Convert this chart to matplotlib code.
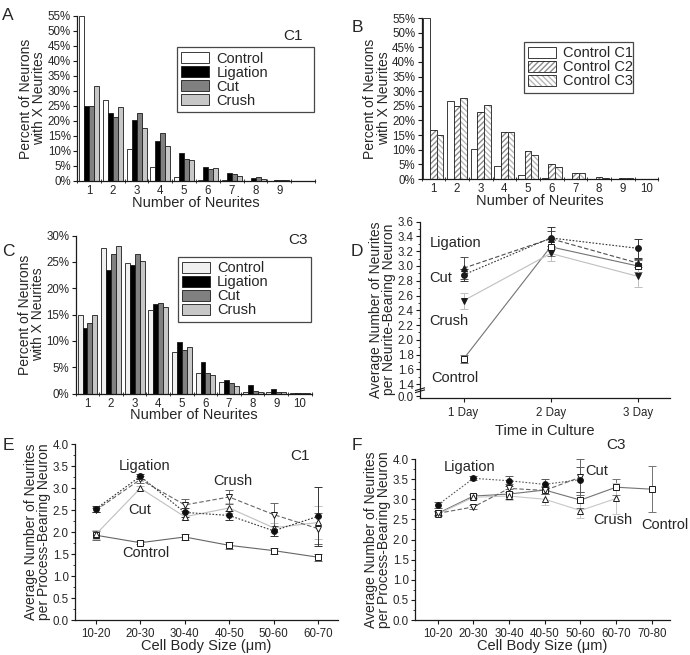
import numpy as np
import matplotlib.pyplot as plt
from matplotlib.patches import Patch
from matplotlib.legend_handler import HandlerTuple
import matplotlib.transforms as mtransforms

plt.rcParams['font.family'] = ['Liberation Sans', 'DejaVu Sans']
plt.rcParams['mathtext.default'] = 'regular'

# ---------------------------------------------------------------------------
# Data
# ---------------------------------------------------------------------------
# A: C1 distribution, neurites 1..9 (percent)
a_control = [55, 27, 10.5, 4.8, 1.4, 0.4, 0.2, 0.1, 0.0]
a_ligation = [25, 22.7, 20.2, 13.2, 9.3, 4.7, 2.6, 1.1, 0.4]
a_cut = [25, 21.4, 22.7, 15.9, 7.3, 3.9, 2.2, 1.4, 0.4]
a_crush = [31.8, 24.7, 17.5, 11.5, 7.0, 4.2, 1.5, 0.5, 0.3]

# B: control distributions, neurites 1..10
b_c1 = [55, 26.8, 10.4, 4.6, 1.5, 0.3, 0.1, 0.05, 0.0, 0.0]
b_c2 = [16.9, 24.8, 23.0, 16.1, 9.7, 5.2, 2.2, 0.6, 0.3, 0.0]
b_c3 = [15.1, 27.8, 25.4, 16.0, 8.1, 4.0, 2.2, 0.3, 0.3, 0.0]

# C: C3 distribution, neurites 1..10
c_control = [14.9, 27.6, 24.9, 15.9, 7.9, 3.9, 2.2, 0.3, 0.4, 0.1]
c_ligation = [12.5, 23.4, 24.4, 17.1, 9.9, 6.1, 2.5, 1.7, 0.8, 0.1]
c_cut = [13.5, 26.5, 26.5, 17.3, 8.3, 4.0, 2.0, 0.5, 0.25, 0.1]
c_crush = [14.9, 28.0, 25.1, 16.4, 8.9, 3.5, 1.5, 0.3, 0.25, 0.05]

# D: average neurites vs time in culture
days = ['1 Day', '2 Day', '3 Day']
d_lig = [2.88, 3.38, 3.24]
d_lig_err = [0.08, 0.15, 0.13]
d_cut = [2.97, 3.37, 3.04]
d_cut_err = [0.15, 0.10, 0.06]
d_crush = [2.53, 3.17, 2.86]
d_crush_err = [0.11, 0.10, 0.15]
d_control = [1.74, 3.26, 3.00]
d_control_err = [0.05, 0.12, 0.08]

# E: C1 vs cell body size
e_sizes = ['10-20', '20-30', '30-40', '40-50', '50-60', '60-70']
e_control = [1.93, 1.76, 1.89, 1.70, 1.58, 1.43]
e_control_err = [0.10, 0.04, 0.06, 0.08, 0.07, 0.08]
e_lig = [2.53, 3.27, 2.45, 2.38, 2.03, 2.36]
e_lig_err = [0.06, 0.05, 0.10, 0.10, 0.12, 0.67]
e_cut = [1.95, 3.00, 2.35, 2.55, 2.10, 2.22]
e_cut_err = [0.10, 0.05, 0.08, 0.12, 0.10, 0.38]
e_crush = [2.50, 3.20, 2.62, 2.80, 2.40, 2.08]
e_crush_err = [0.05, 0.08, 0.14, 0.17, 0.26, 0.35]

# F: C3 vs cell body size
f_sizes = ['10-20', '20-30', '30-40', '40-50', '50-60', '60-70', '70-80']
f_control = [2.65, 3.08, 3.13, 3.23, 2.98, 3.30, 3.25]
f_control_err = [0.06, 0.05, 0.12, 0.10, 0.20, 0.20, 0.57]
f_lig = [2.86, 3.52, 3.46, 3.37, 3.49]
f_lig_err = [0.07, 0.05, 0.12, 0.13, 0.30]
f_cut = [2.65, 2.81, 3.27, 3.22, 3.55]
f_cut_err = [0.05, 0.05, 0.10, 0.08, 0.44]
f_crush = [2.63, 3.05, 3.08, 3.00, 2.72, 3.02]
f_crush_err = [0.05, 0.05, 0.10, 0.14, 0.18, 0.38]

TXT = '0.15'
TICK_FS = 8.3
LABEL_FS = 10


# ---------------------------------------------------------------------------
# Helpers
# ---------------------------------------------------------------------------
def style_axes(ax):
    for s in ('top', 'right'):
        ax.spines[s].set_visible(False)
    for s in ('left', 'bottom'):
        ax.spines[s].set_linewidth(0.9)
        ax.spines[s].set_color('0.1')
    ax.tick_params(which='major', length=3, width=0.8, labelsize=TICK_FS,
                   labelcolor=TXT, pad=1.5, colors='0.1')
    ax.tick_params(which='minor', length=1.8, width=0.6, colors='0.1')


def hist_axes(ax, ymax, ystep, nlabels):
    style_axes(ax)
    ax.set_xlim(0.58, 10.2)
    ax.set_ylim(0, ymax)
    ax.set_yticks(np.arange(0, ymax + 0.1, ystep))
    ax.set_yticklabels([f'{int(v)}%' for v in np.arange(0, ymax + 0.1, ystep)])
    ax.set_xticks(np.arange(1, nlabels + 1))
    ax.set_xticks(np.arange(0.5, 10.6, 1.0), minor=True)
    ax.tick_params(axis='x', which='major', length=0, pad=3)
    ax.tick_params(axis='x', which='minor', length=3, direction='inout')
    ax.set_xlabel('Number of Neurites', fontsize=LABEL_FS + 0.5, color=TXT,
                  labelpad=-1)
    ax.set_ylabel('Percent of Neurons\nwith X Neurites', fontsize=LABEL_FS,
                  color=TXT, labelpad=1, linespacing=0.95)


def grouped_bars(ax, series, colors, width):
    n = len(series)
    offs = (np.arange(n) - (n - 1) / 2) * width
    handles = []
    for vals, col, off in zip(series, colors, offs):
        x = np.arange(1, len(vals) + 1) + off
        h = ax.bar(x, vals, width=width, color=col, edgecolor='0.1', linewidth=0.6)
        handles.append(h)
    return handles


def bar_legend(ax, handles, labels, bbox):
    leg = ax.legend(handles, labels, loc='upper left', bbox_to_anchor=bbox,
                    mode='expand', frameon=True, fancybox=False, fontsize=10.5,
                    handlelength=1.9, handleheight=0.75, handletextpad=0.5,
                    labelspacing=0.0, borderpad=0.3, borderaxespad=0,
                    handler_map={tuple: HandlerTuple(ndivide=1)})
    leg.get_frame().set_edgecolor('0.1')
    leg.get_frame().set_linewidth(0.9)
    for t in leg.get_texts():
        t.set_color(TXT)
    return leg


def line_series(ax, x, y, err, marker, mfc, ls, col, ms=4.2):
    ax.errorbar(x, y, yerr=err, fmt='none', ecolor=col, elinewidth=0.7,
                capsize=3, capthick=0.7, zorder=2)
    ax.plot(x, y, ls=ls, color=col, lw=0.8, zorder=3)
    ax.plot(x, y, ls='none', marker=marker, ms=ms, mfc=mfc, mec='0.1',
            mew=0.7, zorder=4)


fig = plt.figure(figsize=(6.9, 6.55), dpi=100)

# ---------------------------------------------------------------------------
# A
# ---------------------------------------------------------------------------
axA = fig.add_axes([0.1116, 0.7237, 0.345, 0.2519])
hA = grouped_bars(axA, [a_control, a_ligation, a_cut, a_crush],
                  ['white', 'black', '0.5', '0.78'], 0.21)
hist_axes(axA, 55, 5, 9)
bar_legend(axA, hA, ['Control', 'Ligation', 'Cut', 'Crush'], (0.42, 0.81, 0.575, 0.0))
axA.text(0.908, 0.88, 'C1', transform=axA.transAxes, fontsize=11, color=TXT,
         ha='center', va='center')

# ---------------------------------------------------------------------------
# B
# ---------------------------------------------------------------------------
axB = fig.add_axes([0.611, 0.7267, 0.343, 0.2458])
wB = 0.28
offsB = [-wB, 0.0, wB]
x10 = np.arange(1, 11)
axB.bar(x10 + offsB[0], b_c1, width=wB, color='white', edgecolor='0.1', linewidth=0.6)
axB.bar(x10 + offsB[1], b_c2, width=wB, color='white', edgecolor='0.55',
        linewidth=0, hatch='//////')
axB.bar(x10 + offsB[1], b_c2, width=wB, fill=False, edgecolor='0.1', linewidth=0.6)
axB.bar(x10 + offsB[2], b_c3, width=wB, color='white', edgecolor='0.72',
        linewidth=0, hatch='\\\\\\\\\\\\')
axB.bar(x10 + offsB[2], b_c3, width=wB, fill=False, edgecolor='0.1', linewidth=0.6)
hist_axes(axB, 55, 5, 10)
hB = [Patch(facecolor='white', edgecolor='0.1', linewidth=0.6),
      (Patch(facecolor='white', edgecolor='0.55', hatch='//////', linewidth=0),
       Patch(fill=False, edgecolor='0.1', linewidth=0.6)),
      (Patch(facecolor='white', edgecolor='0.72', hatch='\\\\\\\\\\\\', linewidth=0),
       Patch(fill=False, edgecolor='0.1', linewidth=0.6))]
bar_legend(axB, hB, ['Control C1', 'Control C2', 'Control C3'], (0.433, 0.851, 0.46, 0.0))

# ---------------------------------------------------------------------------
# C
# ---------------------------------------------------------------------------
axC = fig.add_axes([0.1097, 0.399, 0.342, 0.2412])
hC = grouped_bars(axC, [c_control, c_ligation, c_cut, c_crush],
                  ['0.94', 'black', '0.5', '0.78'], 0.21)
hist_axes(axC, 30, 5, 10)
bar_legend(axC, hC, ['Control', 'Ligation', 'Cut', 'Crush'], (0.433, 0.865, 0.565, 0.0))
axC.text(0.94, 0.97, 'C3', transform=axC.transAxes, fontsize=11, color=TXT,
         ha='center', va='center')

# ---------------------------------------------------------------------------
# D (broken y axis: 0.0 shown just below 1.4)
# ---------------------------------------------------------------------------
axD = fig.add_axes([0.6087, 0.3928, 0.3623, 0.2687])
style_axes(axD)
xd = np.arange(1, len(days) + 1)
line_series(axD, xd, d_control, d_control_err, 's', 'white', '-', '0.45', ms=3.8)
line_series(axD, xd, d_crush, d_crush_err, 'v', '0.1', '-', '0.75')
line_series(axD, xd, d_cut, d_cut_err, '^', '0.1', (0, (4, 2)), '0.3')
line_series(axD, xd, d_lig, d_lig_err, 'o', '0.1', (0, (1.5, 1.5)), '0.2')
axD.set_xlim(0.5, 3.37)
axD.set_ylim(1.215, 3.6)
zero_pos = 1.235
yt = [zero_pos] + list(np.round(np.arange(1.4, 3.61, 0.2), 1))
axD.set_yticks(yt)
axD.set_yticklabels(['0.0'] + [f'{v:.1f}' for v in yt[1:]])
axD.set_yticks(np.round(np.arange(1.5, 3.6, 0.2), 1), minor=True)
axD.set_xticks(xd)
axD.set_xticklabels(days)
axD.tick_params(axis='x', pad=4)
axD.set_xlabel('Time in Culture', fontsize=LABEL_FS + 0.5, color=TXT, labelpad=3)
axD.set_ylabel('Average Number of Neurites\nper Neurite-Bearing Neuron',
               fontsize=LABEL_FS, color=TXT, labelpad=1, linespacing=0.95)
# axis break marks
brk = mtransforms.blended_transform_factory(axD.transAxes, axD.transData)
for dy in (0.0, 0.028):
    axD.plot([-0.018, 0.018], [1.285 + dy, 1.32 + dy], color='0.1', lw=0.8,
             transform=brk, clip_on=False)
for txt, x, y in [('Ligation', 0.61, 3.31), ('Cut', 0.61, 2.84),
                  ('Crush', 0.61, 2.26), ('Control', 0.63, 1.48)]:
    axD.text(x, y, txt, fontsize=10.5, color=TXT, ha='left', va='center')

# ---------------------------------------------------------------------------
# E
# ---------------------------------------------------------------------------
axE = fig.add_axes([0.1087, 0.0534, 0.3812, 0.2683])
style_axes(axE)
xe = np.arange(1, len(e_sizes) + 1)
line_series(axE, xe, e_control, e_control_err, 's', 'white', '-', '0.4', ms=3.8)
line_series(axE, xe, e_cut, e_cut_err, '^', 'white', '-', '0.75')
line_series(axE, xe, e_crush, e_crush_err, 'v', 'white', (0, (4, 2)), '0.4')
line_series(axE, xe, e_lig, e_lig_err, 'o', '0.05', (0, (1.5, 1.5)), '0.2')
axE.set_xlim(0.53, 6.45)
axE.set_ylim(0, 4.0)
axE.set_yticks(np.arange(0, 4.01, 0.5))
axE.set_yticklabels([f'{v:.1f}' for v in np.arange(0, 4.01, 0.5)])
axE.set_yticks(np.arange(0.25, 4.0, 0.5), minor=True)
axE.set_xticks(xe)
axE.set_xticklabels(e_sizes)
axE.tick_params(axis='x', pad=3)
axE.set_xlabel('Cell Body Size (\u03bcm)', fontsize=LABEL_FS + 0.5, color=TXT,
               labelpad=-1)
axE.set_ylabel('Average Number of Neurites\nper Process-Bearing Neuron',
               fontsize=LABEL_FS, color=TXT, labelpad=1, linespacing=0.95)
for txt, x, y in [('Ligation', 2.1, 3.51), ('Crush', 4.08, 3.17),
                  ('Cut', 1.99, 2.5), ('Control', 2.12, 1.52)]:
    axE.text(x, y, txt, fontsize=10.5, color=TXT, ha='center', va='center')
axE.text(5.6, 3.73, 'C1', fontsize=11, color=TXT, ha='center', va='center')

# ---------------------------------------------------------------------------
# F
# ---------------------------------------------------------------------------
axF = fig.add_axes([0.6014, 0.0534, 0.3696, 0.2458])
style_axes(axF)
xf = np.arange(1, len(f_sizes) + 1)
line_series(axF, xf, f_control, f_control_err, 's', 'white', '-', '0.45', ms=3.8)
line_series(axF, xf[:len(f_crush)], f_crush, f_crush_err, '^', 'white', '-', '0.78')
line_series(axF, xf[:len(f_cut)], f_cut, f_cut_err, 'v', 'white', (0, (4, 2)), '0.4')
line_series(axF, xf[:len(f_lig)], f_lig, f_lig_err, 'o', '0.05', (0, (1.5, 1.5)), '0.35')
axF.set_xlim(0.36, 7.51)
axF.set_ylim(0, 4.0)
axF.set_yticks(np.arange(0, 4.01, 0.5))
axF.set_yticklabels([f'{v:.1f}' for v in np.arange(0, 4.01, 0.5)])
axF.set_yticks(np.arange(0.25, 4.0, 0.5), minor=True)
axF.set_xticks(xf)
axF.set_xticklabels(f_sizes)
axF.tick_params(axis='x', pad=3)
axF.set_xlabel('Cell Body Size (\u03bcm)', fontsize=LABEL_FS + 0.5, color=TXT,
               labelpad=-1)
axF.set_ylabel('Average Number of Neurites\nper Process-Bearing Neuron',
               fontsize=LABEL_FS, color=TXT, labelpad=1, linespacing=0.95)
for txt, x, y in [('Ligation', 1.9, 3.81), ('Cut', 5.45, 3.71),
                  ('Crush', 5.92, 2.48), ('Control', 7.37, 2.36)]:
    axF.text(x, y, txt, fontsize=10.5, color=TXT, ha='center', va='center')
axF.text(6.0, 4.35, 'C3', fontsize=11, color=TXT, ha='center', va='center')

# ---------------------------------------------------------------------------
# Panel letters
# ---------------------------------------------------------------------------
for letter, px, py in [('A', 8, 15), ('B', 357, 27), ('C', 8, 252),
                       ('D', 357, 252), ('E', 8, 445), ('F', 357, 445)]:
    fig.text(px / 690, 1 - py / 655, letter, fontsize=12.5, color=TXT,
             ha='center', va='center')

fig.savefig('out.png', dpi=100)
